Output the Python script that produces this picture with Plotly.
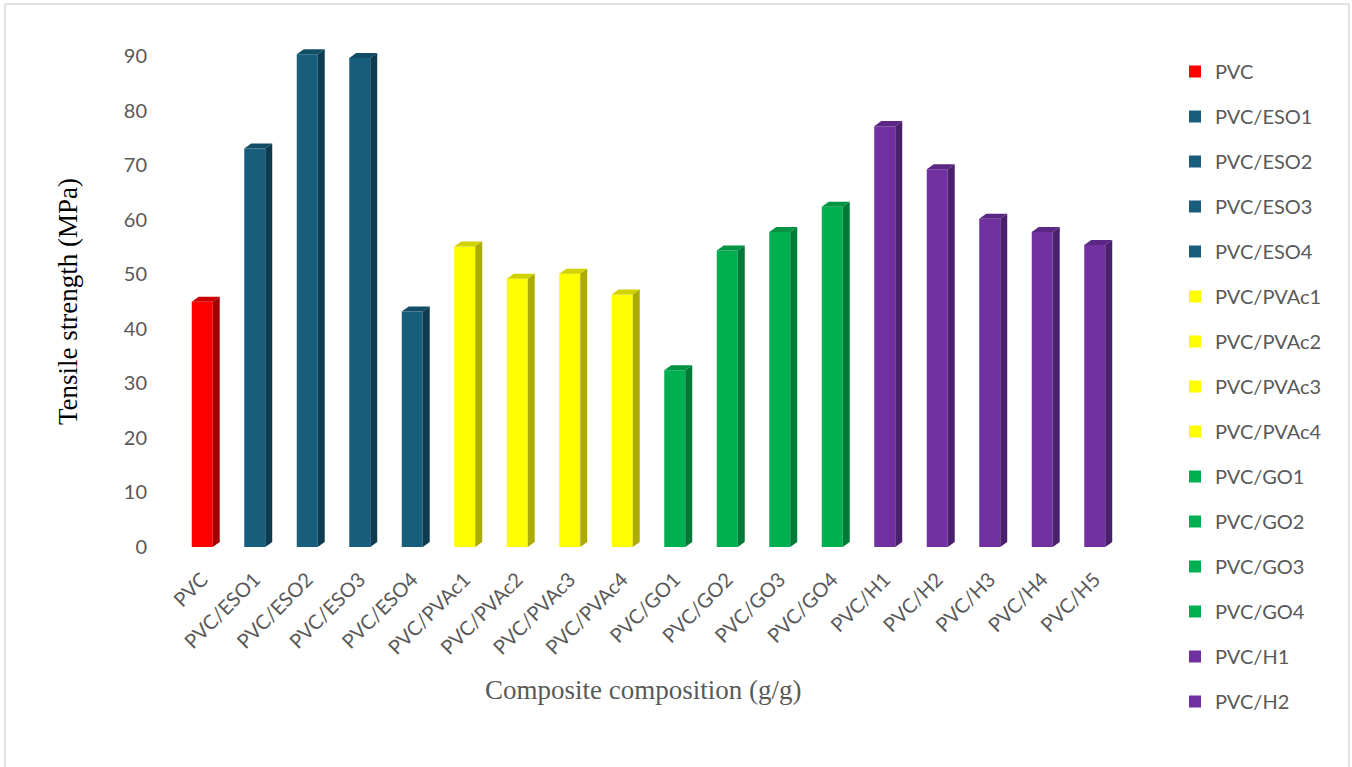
import plotly.graph_objects as go

# Composite samples and measured tensile strength (MPa)
categories = ["PVC", "PVC/ESO1", "PVC/ESO2", "PVC/ESO3", "PVC/ESO4",
              "PVC/PVAc1", "PVC/PVAc2", "PVC/PVAc3", "PVC/PVAc4",
              "PVC/GO1", "PVC/GO2", "PVC/GO3", "PVC/GO4",
              "PVC/H1", "PVC/H2", "PVC/H3", "PVC/H4", "PVC/H5"]
tensile_strength = [45.0, 73.1, 90.4, 89.7, 43.2,
                    55.1, 49.2, 50.1, 46.3,
                    32.4, 54.4, 57.8, 62.4,
                    77.2, 69.3, 60.2, 57.8, 55.4]
groups = ["PVC", "ESO", "ESO", "ESO", "ESO",
          "PVAc", "PVAc", "PVAc", "PVAc",
          "GO", "GO", "GO", "GO",
          "H", "H", "H", "H", "H"]
y_ticks = [0, 10, 20, 30, 40, 50, 60, 70, 80, 90]

# front / top / side shades for each filler family
palette = {
    "PVC": ("#FF0000", "#CC0000", "#A30000"),
    "ESO": ("#175E7D", "#124D67", "#0E3B50"),
    "PVAc": ("#FFFF00", "#D2D200", "#ABAB00"),
    "GO": ("#00B050", "#009443", "#007A37"),
    "H": ("#7030A0", "#5B2784", "#4A1F6B"),
}

W, H = 1352, 767
M_L, M_R, M_T, M_B = 176, 231, 40, 220
Y_MAX = 93.0
BAR_W = 0.4          # front face width (category units)
DEPTH_X = 0.133      # horizontal depth of the extruded side
DEPTH_Y = 0.92       # vertical rise of the extruded top (MPa)
LEGEND_SHOWN = 15    # entries that fit in the legend column

TEXT_GREY = "#595959"
FONT = "Lato"
FONT_SIZE = 20

fig = go.Figure()

for i, (name, val, grp) in enumerate(zip(categories, tensile_strength, groups)):
    front, top, side = palette[grp]
    fig.add_trace(go.Bar(
        x=[i], y=[val], width=BAR_W, name=name,
        marker=dict(color=front, line=dict(width=0)),
        legendgroup=name, showlegend=i < LEGEND_SHOWN,
    ))
    xl, xr = i - BAR_W / 2, i + BAR_W / 2
    # top face of the extruded column
    fig.add_trace(go.Scatter(
        x=[xl, xr, xr + DEPTH_X, xl + DEPTH_X, xl],
        y=[val, val, val + DEPTH_Y, val + DEPTH_Y, val],
        mode="lines", fill="toself", fillcolor=top,
        line=dict(width=0, color=top), hoverinfo="skip", showlegend=False,
    ))
    # right side face
    fig.add_trace(go.Scatter(
        x=[xr, xr + DEPTH_X, xr + DEPTH_X, xr, xr],
        y=[0, DEPTH_Y, val + DEPTH_Y, val, 0],
        mode="lines", fill="toself", fillcolor=side,
        line=dict(width=0, color=side), hoverinfo="skip", showlegend=False,
    ))

plot_w = W - M_L - M_R
plot_h = H - M_T - M_B

def px_to_paper_x(px):
    return (px - M_L) / plot_w

def px_to_paper_y(py):
    return (H - M_B - py) / plot_h

# light frame around the chart area
frame = dict(type="line", xref="paper", yref="paper",
             line=dict(color="#D9D9D9", width=1.5))
fx0, fx1 = px_to_paper_x(5), px_to_paper_x(1349)
fy0, fy1 = px_to_paper_y(4), px_to_paper_y(800)
shapes = [
    dict(frame, x0=fx0, x1=fx1, y0=fy0, y1=fy0),
    dict(frame, x0=fx0, x1=fx0, y0=fy0, y1=fy1),
    dict(frame, x0=fx1, x1=fx1, y0=fy0, y1=fy1),
]

fig.update_layout(
    width=W, height=H,
    margin=dict(l=M_L, r=M_R, t=M_T, b=M_B),
    paper_bgcolor="white", plot_bgcolor="white",
    barmode="overlay",
    shapes=shapes,
    font=dict(family=FONT, size=FONT_SIZE, color=TEXT_GREY),
    xaxis=dict(
        range=[-0.5, len(categories) - 0.5],
        tickmode="array", tickvals=list(range(len(categories))), ticktext=categories,
        tickangle=-45, showgrid=False, zeroline=False, showline=False,
        ticks="outside", ticklen=12, tickcolor="rgba(0,0,0,0)",
        tickfont=dict(family=FONT, size=FONT_SIZE, color=TEXT_GREY),
    ),
    yaxis=dict(
        range=[0, Y_MAX], tickmode="array", tickvals=y_ticks,
        showgrid=False, zeroline=False, showline=False,
        ticks="outside", ticklen=24, tickcolor="rgba(0,0,0,0)",
        tickfont=dict(family=FONT, size=FONT_SIZE, color=TEXT_GREY),
    ),
    legend=dict(
        xref="container", yref="container", x=1175 / W, y=1 - 52 / H,
        xanchor="left", yanchor="top", maxheight=760,
        traceorder="grouped", tracegroupgap=16,
        font=dict(family=FONT, size=FONT_SIZE, color=TEXT_GREY),
        bgcolor="rgba(0,0,0,0)",
    ),
    annotations=[
        dict(text="Tensile strength (MPa)", xref="paper", yref="paper",
             x=px_to_paper_x(68), y=px_to_paper_y(302), textangle=-90,
             showarrow=False, xanchor="center", yanchor="middle",
             font=dict(family="Liberation Serif", size=27, color="#000000")),
        dict(text="Composite composition (g/g)", xref="paper", yref="paper",
             x=px_to_paper_x(643), y=px_to_paper_y(690),
             showarrow=False, xanchor="center", yanchor="middle",
             font=dict(family="Liberation Serif", size=27, color=TEXT_GREY)),
    ],
)

fig.write_html("out.html")
